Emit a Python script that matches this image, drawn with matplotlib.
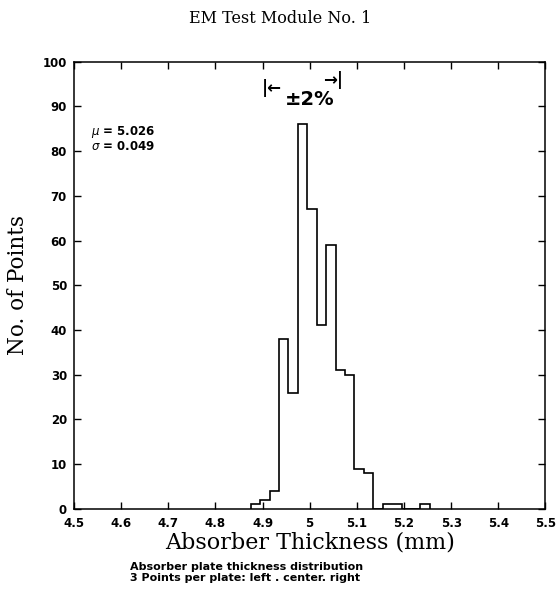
import matplotlib
matplotlib.use("Agg")
import matplotlib.pyplot as plt

# bin edges (mm) and counts per bin
edges = [4.875, 4.895, 4.915, 4.935, 4.955, 4.975, 4.995, 5.015, 5.035,
         5.055, 5.075, 5.095, 5.115, 5.135, 5.155, 5.175, 5.195, 5.215,
         5.235, 5.255]
counts = [1, 2, 4, 38, 26, 86, 67, 41, 59, 31, 30, 9, 8, 0, 1, 1, 0, 0, 1]

xticks = [4.5, 4.6, 4.7, 4.8, 4.9, 5.0, 5.1, 5.2, 5.3, 5.4, 5.5]
xticklabels = ["4.5", "4.6", "4.7", "4.8", "4.9", "5", "5.1", "5.2", "5.3", "5.4", "5.5"]
yticks = list(range(0, 101, 10))

fig = plt.figure(figsize=(5.6, 5.93), dpi=100)
ax = fig.add_axes([0.132, 0.142, 0.842, 0.754])

ax.stairs(counts, edges, color="black", lw=1.2)
ax.set_xlim(4.5, 5.5)
ax.set_ylim(0, 100)
ax.set_xticks(xticks)
ax.set_xticklabels(xticklabels)
ax.set_yticks(yticks)
ax.tick_params(direction="in", length=5, width=1, top=True, right=True,
               labelsize=8.5)
for lab in ax.get_xticklabels() + ax.get_yticklabels():
    lab.set_fontweight("bold")
ax.tick_params(axis="x", pad=6)
ax.tick_params(axis="y", pad=5)
for s in ax.spines.values():
    s.set_linewidth(1.1)

ax.set_xlabel("Absorber Thickness (mm)", family="DejaVu Serif", fontsize=16, labelpad=1)
ax.set_ylabel("No. of Points", family="DejaVu Serif", fontsize=15.5, labelpad=10)
fig.text(0.5, 0.968, "EM Test Module No. 1", family="DejaVu Serif",
         fontsize=11.5, ha="center", va="center")

ax.text(0.036, 0.86, "$\\mu$ = 5.026\n$\\sigma$ = 0.049", transform=ax.transAxes,
        fontsize=8.5, fontweight="bold", va="top", linespacing=1.0)

# hand-written annotation above the peak
ax.text(0.50, 0.915, "±2%", transform=ax.transAxes, fontsize=14,
        fontweight="bold", ha="center", va="center")
ax.text(0.42, 0.94, "|←", transform=ax.transAxes, fontsize=12,
        fontweight="bold", ha="center", va="center")
ax.text(0.55, 0.958, "→|", transform=ax.transAxes, fontsize=12,
        fontweight="bold", ha="center", va="center")

fig.text(0.232, 0.035, "Absorber plate thickness distribution\n"
         "3 Points per plate: left . center. right",
         fontsize=8, fontweight="bold", ha="left", va="center", linespacing=1.1)

fig.savefig("out.png", dpi=100)
